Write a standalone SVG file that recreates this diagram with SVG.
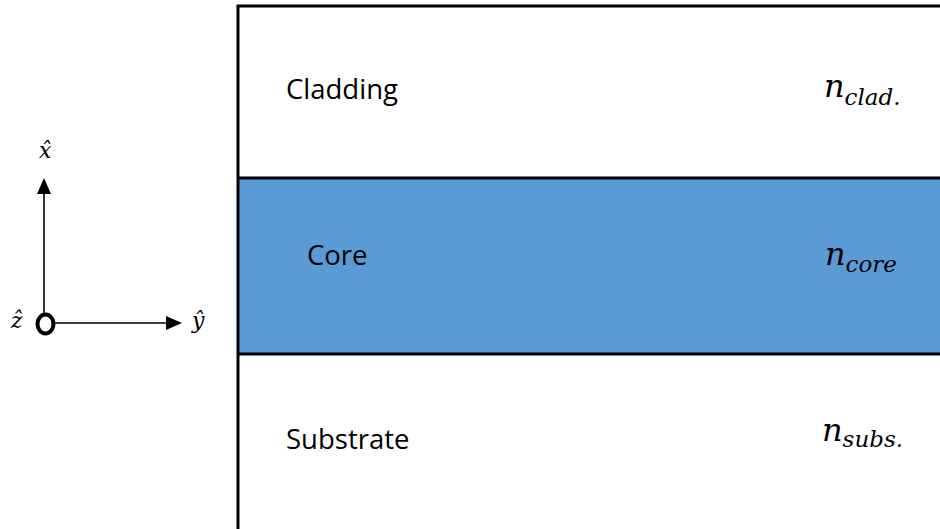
<svg xmlns="http://www.w3.org/2000/svg" width="940" height="529" viewBox="0 0 940 529">
<style>
.lbl{font-family:"Open Sans","Liberation Sans",sans-serif;font-size:27.5px;fill:#000}
.m{font-family:"DejaVu Serif","Liberation Serif",serif;font-style:italic;fill:#000}
.n{font-size:32px}
.s{font-size:23px}
.ax{font-size:22px}
.ln{stroke:#000;stroke-width:3;fill:none}
</style>
<defs>
<marker id="ah" viewBox="0 0 16 14" refX="0" refY="7" markerWidth="16" markerHeight="14" orient="auto" markerUnits="userSpaceOnUse">
<path d="M0,0 L16,7 L0,14 Z" fill="#000"/>
</marker>
</defs>
<g id="cladding">
<rect x="238" y="6" width="702" height="172" fill="#fff"/>
<text class="lbl" x="286" y="99">Cladding</text>
<text class="m" x="824" y="97"><tspan class="n">n</tspan><tspan class="s" dy="8">clad.</tspan></text>
</g>
<g id="core">
<rect x="238" y="178" width="702" height="176" fill="#5B9BD5"/>
<text class="lbl" x="307" y="265">Core</text>
<text class="m" x="825" y="265"><tspan class="n">n</tspan><tspan class="s" dy="7">core</tspan></text>
</g>
<g id="substrate">
<rect x="238" y="354" width="702" height="175" fill="#fff"/>
<text class="lbl" x="286" y="449">Substrate</text>
<text class="m" x="822" y="441"><tspan class="n">n</tspan><tspan class="s" dy="6">subs.</tspan></text>
</g>
<g id="borders">
<path class="ln" d="M238,529 V6 H940"/>
<path class="ln" d="M238,178 H940 M238,354 H940"/>
</g>
<g id="axes">
<line x1="44" y1="314" x2="44" y2="194" stroke="#000" stroke-width="1.6" marker-end="url(#ah)"/>
<line x1="55" y1="323" x2="166" y2="323" stroke="#000" stroke-width="1.6" marker-end="url(#ah)"/>
<ellipse cx="45.5" cy="324" rx="8" ry="9.5" fill="none" stroke="#000" stroke-width="4"/>
<text class="m ax" x="39" y="158">x̂</text>
<text class="m ax" x="192" y="328">ŷ</text>
<text class="m ax" x="11" y="328">ẑ</text>
</g>
</svg>
